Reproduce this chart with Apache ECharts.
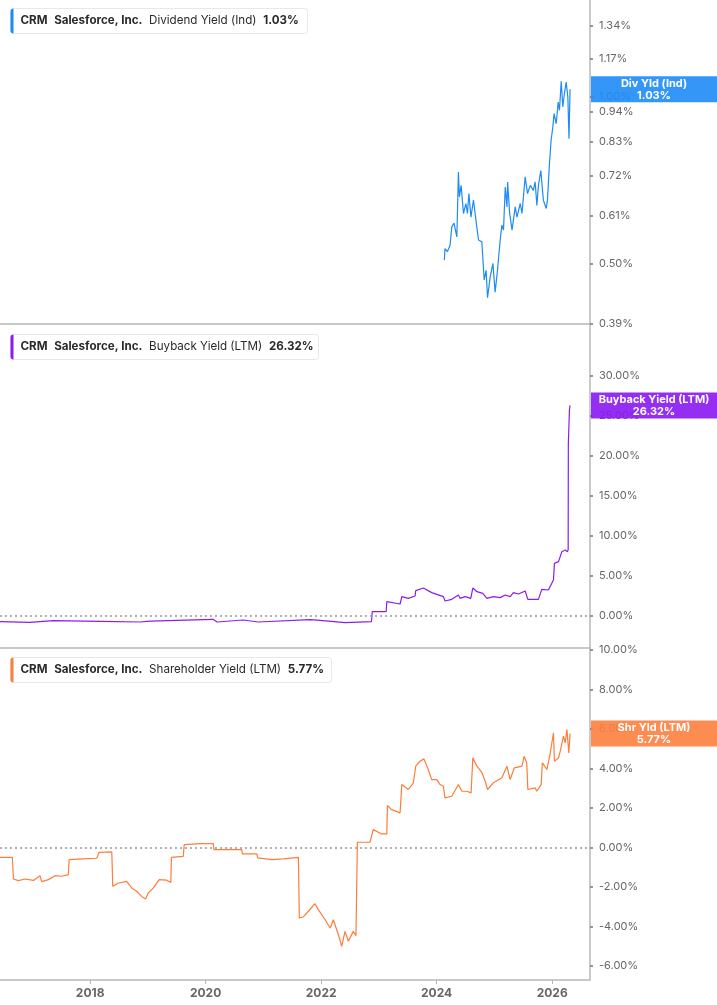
<!DOCTYPE html>
<html>
<head>
<meta charset="utf-8">
<script src="https://cdn.jsdelivr.net/npm/echarts@6/dist/echarts.min.js"></script>
<style>
  html, body { margin: 0; padding: 0; background: #fff; }
  #main { width: 717px; height: 1005px; }
</style>
</head>
<body>
<div id="main"></div>
<script>
// dividend yield (ind), %
const divDates = ['2024-02-19','2024-02-23','2024-03-09','2024-03-26','2024-04-06','2024-04-20','2024-05-08','2024-05-18','2024-05-24','2024-06-04','2024-06-19','2024-07-04','2024-07-14','2024-07-23','2024-08-05','2024-08-21','2024-09-11','2024-09-22','2024-10-13','2024-10-28','2024-11-09','2024-11-18','2024-12-05','2024-12-22','2025-01-05','2025-01-20','2025-02-06','2025-02-17','2025-02-27','2025-03-10','2025-03-21','2025-03-25','2025-04-07','2025-04-22','2025-05-12','2025-05-23','2025-06-13','2025-06-24','2025-07-14','2025-07-29','2025-08-15','2025-09-04','2025-09-15','2025-09-26','2025-10-06','2025-10-21','2025-11-06','2025-11-24','2025-12-02','2025-12-14','2025-12-25','2026-01-05','2026-01-13','2026-01-26','2026-02-08','2026-02-16','2026-02-27','2026-03-09','2026-03-19','2026-03-30','2026-04-10','2026-04-17','2026-04-24'];
const divValues = [0.508,0.533,0.526,0.540,0.583,0.592,0.559,0.731,0.660,0.692,0.616,0.642,0.616,0.669,0.607,0.651,0.583,0.552,0.548,0.468,0.487,0.435,0.474,0.501,0.445,0.487,0.552,0.587,0.575,0.687,0.633,0.702,0.616,0.575,0.633,0.607,0.642,0.616,0.717,0.669,0.692,0.678,0.702,0.637,0.692,0.736,0.651,0.629,0.651,0.752,0.834,0.881,0.931,0.893,0.977,0.944,1.065,0.957,1.011,1.061,0.997,0.839,1.03];

// buyback yield (LTM), %
const bbDates = ['2016-06-10','2016-12-17','2017-05-12','2018-03-05','2018-11-12','2019-01-15','2020-02-17','2020-03-14','2020-08-25','2020-11-28','2021-10-23','2021-12-25','2022-06-01','2022-11-15','2022-11-20','2023-02-16','2023-02-20','2023-05-15','2023-05-26','2023-07-06','2023-08-18','2023-08-22','2023-10-09','2023-12-01','2024-02-13','2024-02-23','2024-04-06','2024-05-18','2024-05-28','2024-06-29','2024-08-04','2024-08-17','2024-09-12','2024-10-19','2024-11-14','2024-12-25','2025-02-06','2025-03-09','2025-04-10','2025-05-01','2025-06-02','2025-07-14','2025-07-31','2025-10-06','2025-10-27','2025-12-08','2026-01-09','2026-01-15','2026-02-10','2026-03-03','2026-03-24','2026-04-08','2026-04-12','2026-04-13','2026-04-17','2026-04-20','2026-04-24'];
const bbValues = [-0.71,-0.79,-0.58,-0.67,-0.75,-0.63,-0.42,-0.75,-0.50,-0.75,-0.46,-0.54,-0.83,-0.71,0.54,0.54,1.79,1.50,2.42,2.21,2.50,3.17,3.50,2.92,2.42,1.88,2.08,2.62,2.21,2.42,2.21,3.50,3.04,2.83,2.21,2.42,2.30,2.62,2.42,2.92,2.75,3.12,2.08,2.08,3.33,3.25,4.50,6.58,6.79,8.04,8.25,8.04,8.30,21.6,23.9,25.75,26.32];

// shareholder yield (LTM), %
const shDates = ['2016-06-10','2016-08-27','2016-09-03','2016-10-04','2016-11-15','2017-01-07','2017-02-18','2017-03-01','2017-04-12','2017-05-24','2017-07-05','2017-08-16','2017-08-21','2017-11-19','2018-02-12','2018-02-27','2018-05-18','2018-05-24','2018-06-29','2018-08-20','2018-09-21','2018-10-22','2018-11-23','2018-12-18','2019-01-04','2019-02-05','2019-03-14','2019-04-30','2019-05-26','2019-05-30','2019-08-13','2019-08-19','2019-11-27','2019-12-03','2020-02-19','2020-02-23','2020-08-17','2020-08-21','2020-11-20','2020-11-26','2021-02-23','2021-05-08','2021-08-10','2021-08-16','2021-09-10','2021-10-12','2021-11-23','2021-12-14','2022-01-26','2022-02-27','2022-03-19','2022-04-20','2022-05-11','2022-06-01','2022-06-22','2022-07-23','2022-08-09','2022-08-18','2022-11-06','2022-11-16','2022-11-26','2023-01-19','2023-02-20','2023-02-24','2023-03-23','2023-05-15','2023-05-26','2023-07-06','2023-08-07','2023-08-22','2023-09-18','2023-10-13','2023-11-09','2023-12-01','2024-01-02','2024-01-23','2024-02-13','2024-02-23','2024-04-06','2024-05-18','2024-06-09','2024-07-10','2024-08-06','2024-08-17','2024-09-12','2024-10-13','2024-11-03','2024-11-18','2024-12-25','2025-01-05','2025-02-17','2025-03-21','2025-04-10','2025-05-06','2025-06-24','2025-07-07','2025-07-24','2025-07-31','2025-09-15','2025-09-26','2025-10-23','2025-10-31','2025-11-28','2025-12-18','2026-01-09','2026-01-15','2026-02-10','2026-02-21','2026-03-13','2026-03-24','2026-04-04','2026-04-16','2026-04-24'];
const shValues = [-0.49,-0.49,-1.59,-1.67,-1.59,-1.66,-1.42,-1.72,-1.62,-1.42,-1.45,-1.37,-0.61,-0.57,-0.54,-0.24,-0.22,-1.96,-1.79,-1.71,-2.04,-2.21,-2.47,-2.60,-2.29,-2.04,-1.62,-1.65,-1.76,-0.49,-0.44,0.15,0.20,0.27,0.20,-0.10,-0.10,-0.32,-0.32,-0.52,-0.61,-0.57,-0.49,-3.56,-3.51,-3.22,-2.84,-3.14,-3.65,-4.07,-3.65,-4.41,-5.00,-4.24,-4.74,-4.24,-4.46,0.27,0.27,0.32,0.91,0.69,0.69,2.13,1.92,1.76,3.19,2.94,3.28,4.12,4.37,4.49,3.95,3.44,3.44,3.19,3.10,2.52,2.60,3.19,2.85,2.85,2.77,4.54,4.12,3.81,3.36,2.94,3.28,3.20,3.53,4.12,3.44,4.03,4.12,4.62,4.29,2.94,3.02,2.85,3.19,4.29,3.95,4.71,5.81,4.37,4.54,4.88,5.64,5.30,5.97,4.79,5.77];

const divTicks = [0.39, 0.50, 0.61, 0.72, 0.83, 0.94, 1.00, 1.17, 1.34];
const bbTicks = [0, 5, 10, 15, 20, 25, 30];
const shTicks = [-6, -4, -2, 0, 2, 4, 6, 8, 10];
const yearTicks = ['2018-01-01', '2020-01-01', '2022-01-01', '2024-01-01', '2026-01-01'];

const panels = [
  { name: 'Dividend Yield (Ind)', short: 'Div Yld (Ind)', last: '1.03%', color: '#1e8bf2', badge: '#1e8cf7', box: 297, top: 8 },
  { name: 'Buyback Yield (LTM)', short: 'Buyback Yield (LTM)', last: '26.32%', color: '#8a1cf2', badge: '#8a17f2', box: 308, top: 334 },
  { name: 'Shareholder Yield (LTM)', short: 'Shr Yld (LTM)', last: '5.77%', color: '#ff7c3a', badge: '#fd8040', box: 321, top: 657 }
];

const t = s => Date.parse(s + 'T00:00:00Z');
const xMin = t('2016-06-10');
const xMax = t('2026-08-28');
const axisGray = '#b8b8b8';
const labelGray = '#666';
const font = 'Inter, Roboto, sans-serif';

const zip = (d, v) => d.map((x, i) => [t(x), v[i]]);
const yearVals = yearTicks.map(t);

function xAxis(i, last) {
  return {
    type: 'value', gridIndex: i, min: xMin, max: xMax,
    axisLine: { show: true, onZero: false, lineStyle: { color: axisGray, width: 1.5 } },
    axisTick: last ? { show: true, customValues: yearVals, length: 4, lineStyle: { color: axisGray } } : { show: false },
    axisLabel: last ? {
      show: true, customValues: yearVals, color: labelGray, fontWeight: 'bold', fontSize: 12, fontFamily: font, margin: 7,
      formatter: v => String(new Date(v).getUTCFullYear())
    } : { show: false },
    splitLine: { show: false }
  };
}

function yAxis(i, type, min, max, ticks, fmt) {
  return {
    type: type, gridIndex: i, position: 'right', min: min, max: max,
    axisLine: { show: true, lineStyle: { color: axisGray, width: 1.5 } },
    axisTick: { show: true, customValues: ticks, length: 3, inside: false, lineStyle: { color: '#777', width: 1.5 } },
    axisLabel: { show: true, customValues: ticks, color: labelGray, fontSize: 11, fontFamily: font, margin: 9, formatter: fmt },
    splitLine: { show: false }
  };
}

const zeroLine = {
  silent: true, symbol: 'none', label: { show: false },
  lineStyle: { type: [2, 3], color: '#999', width: 1.5 },
  data: [{ yAxis: 0 }]
};

const option = {
  animation: false,
  backgroundColor: '#fff',
  grid: [
    { left: 0, right: 127, top: 0, height: 324 },
    { left: 0, right: 127, top: 324, height: 324 },
    { left: 0, right: 127, top: 648, height: 332 }
  ],
  xAxis: [xAxis(0, false), xAxis(1, false), xAxis(2, true)],
  yAxis: [
    yAxis(0, 'log', 0.39, 1.49, divTicks, v => v.toFixed(2) + '%'),
    yAxis(1, 'value', -4, 36.5, bbTicks, v => v.toFixed(2) + '%'),
    yAxis(2, 'value', -6.7, 10.1, shTicks, v => v.toFixed(2) + '%')
  ],
  series: [
    { type: 'line', xAxisIndex: 0, yAxisIndex: 0, data: zip(divDates, divValues), showSymbol: false,
      lineStyle: { color: panels[0].color, width: 1.2 } },
    { type: 'line', xAxisIndex: 1, yAxisIndex: 1, data: zip(bbDates, bbValues), showSymbol: false,
      lineStyle: { color: panels[1].color, width: 1.2 }, markLine: zeroLine },
    { type: 'line', xAxisIndex: 2, yAxisIndex: 2, data: zip(shDates, shValues), showSymbol: false,
      lineStyle: { color: panels[2].color, width: 1.2 }, markLine: zeroLine }
  ]
};

const chart = echarts.init(document.getElementById('main'), null, { renderer: 'canvas' });
chart.setOption(option);

// legend boxes + last value badges
const graphics = [];
panels.forEach((p, i) => {
  graphics.push({
    type: 'group', left: 10, top: p.top,
    children: [
      { type: 'rect', z: 100, shape: { x: 0, y: 0, width: p.box, height: 25, r: 3 },
        style: { fill: '#fff', stroke: '#e8e8e8', lineWidth: 1 } },
      { type: 'rect', z: 101, shape: { x: 0, y: 0, width: 3, height: 25, r: [3, 0, 0, 3] },
        style: { fill: p.color } },
      { type: 'text', z: 101, x: 10, y: 12.5,
        style: {
          text: '{b|CRM}  {b|Salesforce, Inc.}  {n|' + p.name + '}  {b|' + p.last + '}',
          verticalAlign: 'middle',
          rich: {
            b: { fontWeight: 'bold', fontSize: 11.6, fill: '#2a2a2a', fontFamily: font },
            n: { fontSize: 11.6, fill: '#2a2a2a', fontFamily: font }
          }
        } }
    ]
  });
  const s = option.series[i].data;
  const px = chart.convertToPixel({ seriesIndex: i }, s[s.length - 1]);
  graphics.push({
    type: 'group', left: 591, top: px[1] - 13,
    children: [
      { type: 'rect', z: 100, shape: { x: 0, y: 0, width: 126, height: 26 }, style: { fill: p.badge, opacity: 0.9 } },
      { type: 'text', z: 101, x: 63, y: 13,
        style: {
          text: p.short + '\n' + p.last, fill: '#fff', fontWeight: 'bold', fontSize: 11, fontFamily: font,
          align: 'center', verticalAlign: 'middle', lineHeight: 12
        } }
    ]
  });
});
chart.setOption({ graphic: graphics });
</script>
</body>
</html>
